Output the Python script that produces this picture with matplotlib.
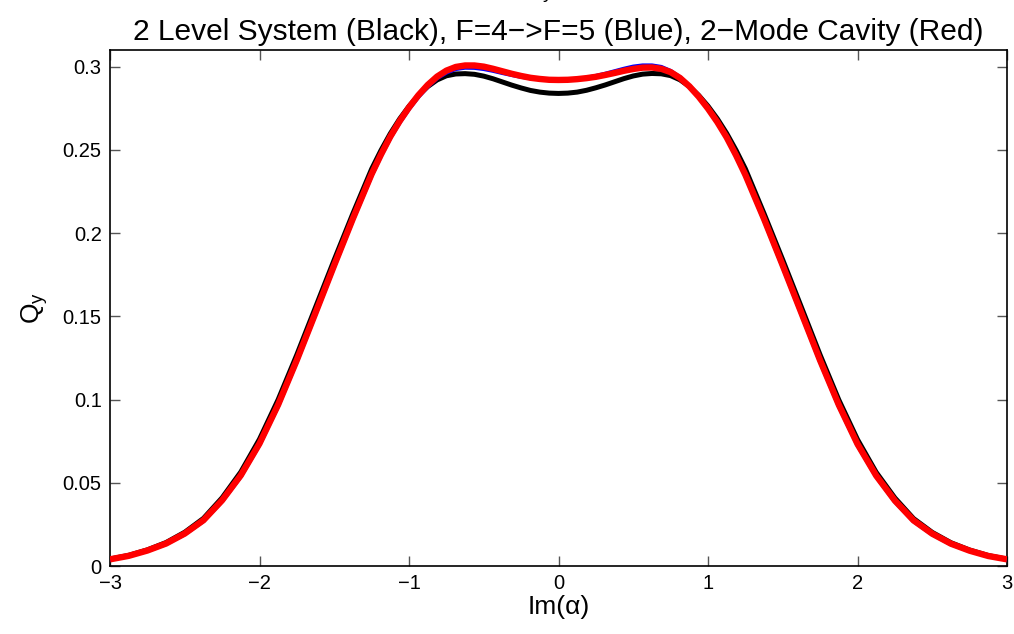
import numpy as np
import matplotlib
matplotlib.use("Agg")
import matplotlib.pyplot as plt
from matplotlib.ticker import FixedLocator, FixedFormatter

plt.rcParams['font.family'] = ['Liberation Sans', 'DejaVu Sans']
plt.rcParams['mathtext.fontset'] = 'custom'
plt.rcParams['mathtext.rm'] = 'Liberation Sans'
plt.rcParams['mathtext.it'] = 'Liberation Sans:italic'

# Im(alpha) sample positions
im_alpha = [-3.0, -2.875, -2.75, -2.625, -2.5, -2.375, -2.25, -2.125, -2.0, -1.875,
            -1.75, -1.625, -1.5, -1.375,
            -1.25, -1.1875, -1.125, -1.0625, -1.0, -0.9375, -0.875, -0.8125, -0.75, -0.6875,
            -0.625, -0.5625, -0.5, -0.4375, -0.375, -0.3125, -0.25, -0.1875, -0.125, -0.0625,
            0.0,
            0.0625, 0.125, 0.1875, 0.25, 0.3125, 0.375, 0.4375, 0.5, 0.5625, 0.625,
            0.6875, 0.75, 0.8125, 0.875, 0.9375, 1.0, 1.0625, 1.125, 1.1875, 1.25,
            1.375, 1.5, 1.625, 1.75, 1.875, 2.0, 2.125, 2.25, 2.375, 2.5,
            2.625, 2.75, 2.875, 3.0]

# 2 level system (black)
q_two_level = [0.0042, 0.0064, 0.0097, 0.0141, 0.0203, 0.0286, 0.0410, 0.0565, 0.0762, 0.1000,
               0.1270, 0.1555, 0.1840, 0.2118,
               0.2385, 0.2497, 0.2598, 0.2686, 0.2762, 0.2827, 0.2880, 0.2920, 0.2945, 0.2956,
               0.2958, 0.2954, 0.2943, 0.2927, 0.2908, 0.2889, 0.2872, 0.2857, 0.2847, 0.2841,
               0.2839,
               0.2841, 0.2847, 0.2858, 0.2873, 0.2890, 0.2909, 0.2928, 0.2944, 0.2955, 0.2959,
               0.2957, 0.2946, 0.2921, 0.2881, 0.2828, 0.2763, 0.2687, 0.2599, 0.2498, 0.2386,
               0.2117, 0.1839, 0.1554, 0.1268, 0.0998, 0.0760, 0.0563, 0.0409, 0.0285, 0.0202,
               0.0140, 0.0096, 0.0063, 0.0041]

# F=4 -> F'=5 (blue)
q_f4_f5 = [0.0039, 0.0060, 0.0091, 0.0132, 0.0191, 0.0270, 0.0389, 0.0538, 0.0729, 0.0962,
           0.1230, 0.1514, 0.1800, 0.2080,
           0.2346, 0.2464, 0.2572, 0.2664, 0.2746, 0.2818, 0.2880, 0.2930, 0.2964, 0.2986,
           0.2994, 0.2993, 0.2986, 0.2975, 0.2962, 0.2950, 0.2939, 0.2931, 0.2925, 0.2921,
           0.2920,
           0.2921, 0.2926, 0.2933, 0.2944, 0.2957, 0.2972, 0.2987, 0.3000, 0.3007, 0.3007,
           0.2998, 0.2974, 0.2936, 0.2884, 0.2820, 0.2746, 0.2664, 0.2572, 0.2464, 0.2346,
           0.2077, 0.1797, 0.1512, 0.1227, 0.0960, 0.0726, 0.0538, 0.0387, 0.0269, 0.0190,
           0.0131, 0.0090, 0.0059, 0.0039]

# 2-mode cavity (red)
q_two_mode = [0.0040, 0.0061, 0.0093, 0.0135, 0.0195, 0.0275, 0.0395, 0.0545, 0.0736, 0.0970,
              0.1238, 0.1522, 0.1808, 0.2088,
              0.2355, 0.2472, 0.2580, 0.2673, 0.2755, 0.2828, 0.2890, 0.2940, 0.2976, 0.2998,
              0.3007, 0.3007, 0.3000, 0.2987, 0.2972, 0.2957, 0.2944, 0.2933, 0.2926, 0.2921,
              0.2920,
              0.2921, 0.2925, 0.2931, 0.2939, 0.2950, 0.2962, 0.2975, 0.2986, 0.2994, 0.2995,
              0.2987, 0.2967, 0.2932, 0.2882, 0.2820, 0.2748, 0.2667, 0.2575, 0.2468, 0.2350,
              0.2085, 0.1805, 0.1520, 0.1235, 0.0968, 0.0733, 0.0543, 0.0393, 0.0274, 0.0194,
              0.0134, 0.0092, 0.0060, 0.0040]

xticks = [-3, -2, -1, 0, 1, 2, 3]
xtick_labels = ['\u22123', '\u22122', '\u22121', '0', '1', '2', '3']
yticks = [0, 0.05, 0.1, 0.15, 0.2, 0.25, 0.3]
ytick_labels = ['0', '0.05', '0.1', '0.15', '0.2', '0.25', '0.3']

fig = plt.figure(figsize=(10.14, 6.34), dpi=100)
ax = fig.add_axes([110 / 1014, 68 / 634, 897 / 1014, 516 / 634])

kw = dict(solid_capstyle='butt', solid_joinstyle='round')
ax.plot(im_alpha, q_two_level, color='black', lw=3.6, zorder=2, **kw)
ax.plot(im_alpha, q_f4_f5, color='blue', lw=3.0, zorder=3, **kw)
ax.plot(im_alpha, q_two_mode, color='red', lw=4.6, zorder=4, **kw)

ax.set_xlim(-3, 3)
ax.set_ylim(0, 0.31)
ax.xaxis.set_major_locator(FixedLocator(xticks))
ax.xaxis.set_major_formatter(FixedFormatter(xtick_labels))
ax.yaxis.set_major_locator(FixedLocator(yticks))
ax.yaxis.set_major_formatter(FixedFormatter(ytick_labels))

ax.tick_params(direction='in', length=7, width=1, colors='#555555', labelcolor='black',
               labelsize=14.5, top=True, right=True, pad=6)
for s in ax.spines.values():
    s.set_linewidth(1.2)
    s.set_color('black')

ax.set_title('2 Level System (Black), F=4\u2212>F=5 (Blue), 2\u2212Mode Cavity (Red)',
             fontsize=21.5, pad=7)
ax.set_xlabel('Im(\u03b1)', fontsize=19, labelpad=1)
ax.set_ylabel('Q$_\\mathregular{y}$', fontsize=19, labelpad=9)

# fragment of a clipped first title line, visible at the top edge in the original
fig.text(548 / 1014, 1.0 + 2 / 634, 'y', fontsize=14, ha='center', va='baseline')

fig.savefig('out.png', dpi=100)
